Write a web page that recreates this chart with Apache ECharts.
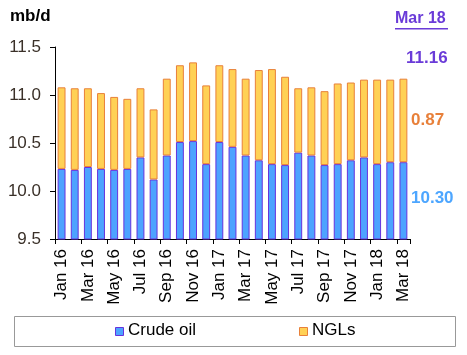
<!DOCTYPE html>
<html><head><meta charset="utf-8">
<script src="https://cdn.jsdelivr.net/npm/echarts@6/dist/echarts.min.js"></script>
<style>html,body{margin:0;padding:0;background:#fff}#c{width:467px;height:355px}</style>
</head><body><div id="c"></div>
<script>
const categories = ["Jan 16","Feb 16","Mar 16","Apr 16","May 16","Jun 16","Jul 16","Aug 16","Sep 16","Oct 16","Nov 16","Dec 16","Jan 17","Feb 17","Mar 17","Apr 17","May 17","Jun 17","Jul 17","Aug 17","Sep 17","Oct 17","Nov 17","Dec 17","Jan 18","Feb 18","Mar 18"];
const crudeOil = [10.23,10.22,10.25,10.23,10.22,10.23,10.35,10.12,10.37,10.51,10.52,10.28,10.51,10.46,10.37,10.32,10.28,10.27,10.40,10.37,10.27,10.28,10.32,10.35,10.28,10.30,10.30];
const ngls = [0.85,0.85,0.82,0.79,0.76,0.73,0.72,0.73,0.80,0.80,0.82,0.82,0.80,0.81,0.80,0.94,0.99,0.92,0.67,0.71,0.77,0.84,0.81,0.81,0.88,0.86,0.87];
const yTicks = [9.5, 10.0, 10.5, 11.0, 11.5];

const chart = echarts.init(document.getElementById('c'), null, {renderer:'canvas'});
const font = 'Arial, "Liberation Sans", sans-serif';
chart.setOption({
  animation:false,
  grid:{left:55, top:47, width:355, height:192, containLabel:false},
  legend:{show:false},
  xAxis:{
    type:'category', data:categories, boundaryGap:true,
    axisLine:{lineStyle:{color:'#000', width:1}},
    axisTick:{show:true, interval:1, length:5, lineStyle:{color:'#000'}},
    axisLabel:{interval:1, rotate:90, color:'#000', fontFamily:font, fontSize:17, margin:10}
  },
  yAxis:{
    type:'value', min:yTicks[0], max:yTicks[yTicks.length-1], interval:0.5,
    splitLine:{show:false},
    axisLine:{show:true, lineStyle:{color:'#000', width:1}},
    axisTick:{show:true, length:5, lineStyle:{color:'#000'}},
    axisLabel:{color:'#3a3028', fontFamily:font, fontSize:17, margin:14,
      formatter:v=>v.toFixed(1)}
  },
  series:[
    {name:'Crude oil', type:'bar', stack:'s', data:crudeOil, barWidth:'60%',
      itemStyle:{color:'#4DA3FF', borderColor:'#6633DD', borderWidth:1}},
    {name:'NGLs', type:'bar', stack:'s', data:ngls, barWidth:'60%',
      itemStyle:{color:'#FFD155', borderColor:'#E8803A', borderWidth:1}}
  ],
  graphic:[
    {type:'text', left:10, top:8, style:{text:'mb/d', font:'bold 17px '+font, fill:'#000'}},
    {type:'text', left:395, top:11, style:{text:'Mar 18', font:'bold 16px '+font, fill:'#6A3BD8'}},
    {type:'rect', shape:{x:395, y:28, width:53, height:1.5}, style:{fill:'#6A3BD8'}},
    {type:'text', left:406, top:50, style:{text:'11.16', font:'bold 17px '+font, fill:'#6A3BD8'}},
    {type:'text', left:411, top:112, style:{text:'0.87', font:'bold 17px '+font, fill:'#E8803A'}},
    {type:'text', left:411, top:190, style:{text:'10.30', font:'bold 17px '+font, fill:'#4DA6FF'}},
    {type:'rect', shape:{x:14.5, y:316.5, width:441, height:30}, style:{fill:'none', stroke:'#999', lineWidth:1}},
    {type:'rect', shape:{x:115.5, y:327.5, width:8, height:8}, style:{fill:'#4DA3FF', stroke:'#6633DD', lineWidth:1}},
    {type:'text', left:128, top:322, style:{text:'Crude oil', font:'17px '+font, fill:'#000'}},
    {type:'rect', shape:{x:299.5, y:327.5, width:8, height:8}, style:{fill:'#FFD155', stroke:'#E8803A', lineWidth:1}},
    {type:'text', left:312, top:322, style:{text:'NGLs', font:'17px '+font, fill:'#000'}}
  ]
});
</script></body></html>
